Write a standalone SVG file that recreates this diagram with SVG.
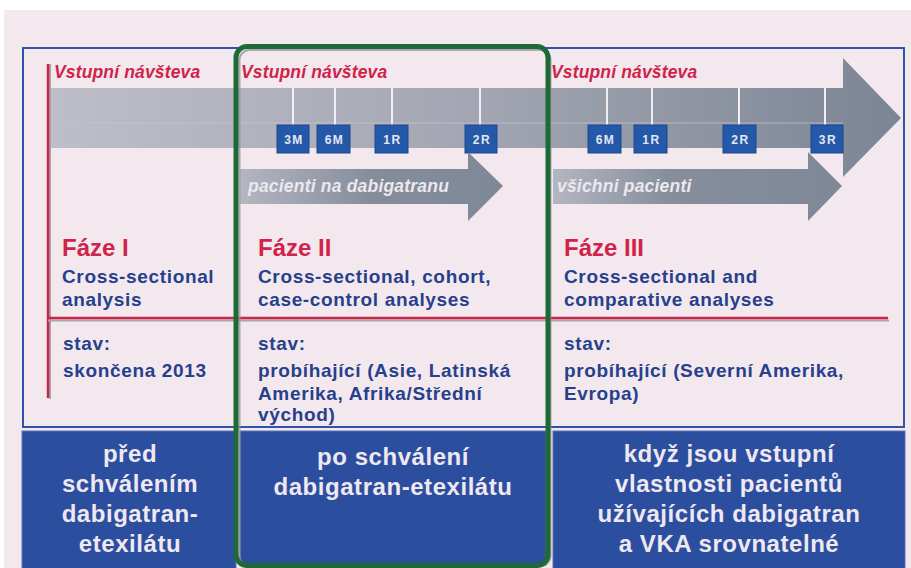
<svg xmlns="http://www.w3.org/2000/svg" width="911" height="568" viewBox="0 0 911 568">
<defs>
<linearGradient id="gBig" x1="50" y1="0" x2="901" y2="0" gradientUnits="userSpaceOnUse">
<stop offset="0" stop-color="#bebec8"/><stop offset="0.5" stop-color="#a3a6b2"/><stop offset="1" stop-color="#7c8595"/>
</linearGradient>
<linearGradient id="gA2" x1="240" y1="0" x2="503" y2="0" gradientUnits="userSpaceOnUse">
<stop offset="0" stop-color="#b4b6c1"/><stop offset="0.5" stop-color="#858d9b"/><stop offset="1" stop-color="#7f8897"/>
</linearGradient>
<linearGradient id="gA3" x1="553" y1="0" x2="842" y2="0" gradientUnits="userSpaceOnUse">
<stop offset="0" stop-color="#b4b6c1"/><stop offset="0.4" stop-color="#868e9c"/><stop offset="1" stop-color="#7f8897"/>
</linearGradient>
<style>
.visit{font-family:"Liberation Sans",Arial,sans-serif;font-weight:bold;font-style:italic;font-size:17.5px;fill:#d0234a;letter-spacing:0.15px}
.tick{stroke:#f4eef3;stroke-width:2}
.mbox{fill:#2459a9;stroke:#1b4890;stroke-width:1}
.mtxt{font-family:"Liberation Sans",Arial,sans-serif;font-weight:bold;font-size:12px;fill:#e4e6f2;text-anchor:middle;letter-spacing:1.5px}
.atxt{font-family:"Liberation Sans",Arial,sans-serif;font-weight:bold;font-style:italic;font-size:17.5px;fill:#ece8ef;letter-spacing:0.2px}
.phase{font-family:"Liberation Sans",Arial,sans-serif;font-weight:bold;font-size:24px;fill:#d0234a}
.desc{font-family:"Liberation Sans",Arial,sans-serif;font-weight:bold;font-size:19px;fill:#26408c;letter-spacing:0.65px}
.box{fill:#2c4e9f;stroke:#5a72b8;stroke-width:1}
.btxt{font-family:"Liberation Sans",Arial,sans-serif;font-weight:bold;font-size:24px;fill:#efe8f1;text-anchor:middle;letter-spacing:0.55px}
</style>
</defs>
<rect x="0" y="0" width="911" height="568" fill="#ffffff"/>
<rect x="4" y="10" width="907" height="558" fill="#f3e8ee"/>
<g id="frame">
<rect x="23" y="48" width="881" height="379" fill="none" stroke="#3054a5" stroke-width="2"/>
</g>
<g id="timeline">
<path d="M50 88 H843 V58 L901 118 L843 177 V148 H50 Z" fill="url(#gBig)"/>
<line x1="50" y1="123" x2="843" y2="123" stroke="#c4c6d0" stroke-width="1" opacity="0.7"/>
<line class="tick" x1="293" y1="88" x2="293" y2="125"/>
<line class="tick" x1="335" y1="88" x2="335" y2="125"/>
<line class="tick" x1="392" y1="88" x2="392" y2="125"/>
<line class="tick" x1="480" y1="88" x2="480" y2="125"/>
<line class="tick" x1="607" y1="88" x2="607" y2="125"/>
<line class="tick" x1="652" y1="88" x2="652" y2="125"/>
<line class="tick" x1="739" y1="88" x2="739" y2="125"/>
<line class="tick" x1="825" y1="88" x2="825" y2="125"/>
</g>
<g id="markers">
<rect class="mbox" x="277" y="125" width="32" height="28"/><text class="mtxt" x="294" y="143.5">3M</text>
<rect class="mbox" x="317" y="125" width="33" height="28"/><text class="mtxt" x="334.5" y="143.5">6M</text>
<rect class="mbox" x="375" y="125" width="33" height="28"/><text class="mtxt" x="392.5" y="143.5">1R</text>
<rect class="mbox" x="465" y="125" width="32" height="28"/><text class="mtxt" x="482" y="143.5">2R</text>
<rect class="mbox" x="588" y="125" width="33" height="28"/><text class="mtxt" x="605.5" y="143.5">6M</text>
<rect class="mbox" x="634" y="125" width="33" height="28"/><text class="mtxt" x="651.5" y="143.5">1R</text>
<rect class="mbox" x="723" y="125" width="33" height="28"/><text class="mtxt" x="740.5" y="143.5">2R</text>
<rect class="mbox" x="811" y="125" width="32" height="28"/><text class="mtxt" x="828" y="143.5">3R</text>
</g>
<g id="arrow-dabigatran">
<path d="M240 169 H468 V152 L503 186 L468 221 V204 H240 Z" fill="url(#gA2)"/>
<text class="atxt" x="248" y="192">pacienti na dabigatranu</text>
</g>
<g id="arrow-all">
<path d="M553 169 H808 V152 L842 186 L808 221 V204 H553 Z" fill="url(#gA3)"/>
<text class="atxt" x="557" y="192">všichni pacienti</text>
</g>
<g id="visits">
<text class="visit" x="54" y="78">Vstupní návšteva</text>
<text class="visit" x="241" y="78">Vstupní návšteva</text>
<text class="visit" x="551" y="78">Vstupní návšteva</text>
</g>
<g id="dividers">
<line x1="50" y1="64" x2="50" y2="399" stroke="#a9a3ab" stroke-width="2"/>
<line x1="48" y1="64" x2="48" y2="398" stroke="#cc2448" stroke-width="2.5"/>
<line x1="48" y1="320.5" x2="889" y2="320.5" stroke="#aaa4ac" stroke-width="2"/>
<line x1="48" y1="318" x2="888" y2="318" stroke="#cc2448" stroke-width="2.5"/>
</g>
<g id="phase1">
<text class="phase" x="62" y="256">Fáze I</text>
<text class="desc" x="62" y="283">Cross-sectional</text>
<text class="desc" x="62" y="306">analysis</text>
<text class="desc" x="63" y="350">stav:</text>
<text class="desc" x="63" y="377">skončena 2013</text>
</g>
<g id="phase2">
<text class="phase" x="258" y="256">Fáze II</text>
<text class="desc" x="258" y="283">Cross-sectional, cohort,</text>
<text class="desc" x="258" y="306">case-control analyses</text>
<text class="desc" x="258" y="350">stav:</text>
<text class="desc" x="258" y="377">probíhající (Asie, Latinská</text>
<text class="desc" x="258" y="400">Amerika, Afrika/Střední</text>
<text class="desc" x="258" y="421">východ)</text>
</g>
<g id="phase3">
<text class="phase" x="564" y="256">Fáze III</text>
<text class="desc" x="564" y="283">Cross-sectional and</text>
<text class="desc" x="564" y="306">comparative analyses</text>
<text class="desc" x="564" y="350">stav:</text>
<text class="desc" x="564" y="377">probíhající (Severní Amerika,</text>
<text class="desc" x="564" y="400">Evropa)</text>
</g>
<g id="box1">
<rect class="box" x="22" y="431" width="214" height="140"/>
<text class="btxt" x="130" y="462">před</text>
<text class="btxt" x="130" y="492">schválením</text>
<text class="btxt" x="130" y="522">dabigatran-</text>
<text class="btxt" x="130" y="552">etexilátu</text>
</g>
<g id="box2">
<rect class="box" x="240" y="431" width="306" height="134"/>
<text class="btxt" x="393" y="465">po schválení</text>
<text class="btxt" x="393" y="495">dabigatran-etexilátu</text>
</g>
<g id="box3">
<rect class="box" x="553" y="431" width="352" height="140"/>
<text class="btxt" x="729" y="462">když jsou vstupní</text>
<text class="btxt" x="729" y="492">vlastnosti pacientů</text>
<text class="btxt" x="729" y="522">užívajících dabigatran</text>
<text class="btxt" x="729" y="552">a VKA srovnatelné</text>
</g>
<g id="highlight">
<rect x="239.5" y="50" width="311" height="516" rx="10" fill="none" stroke="#9a959d" stroke-width="2" opacity="0.8"/>
<rect x="236" y="46.5" width="312" height="519" rx="11" fill="none" stroke="#1e6a36" stroke-width="5"/>
</g>
</svg>
